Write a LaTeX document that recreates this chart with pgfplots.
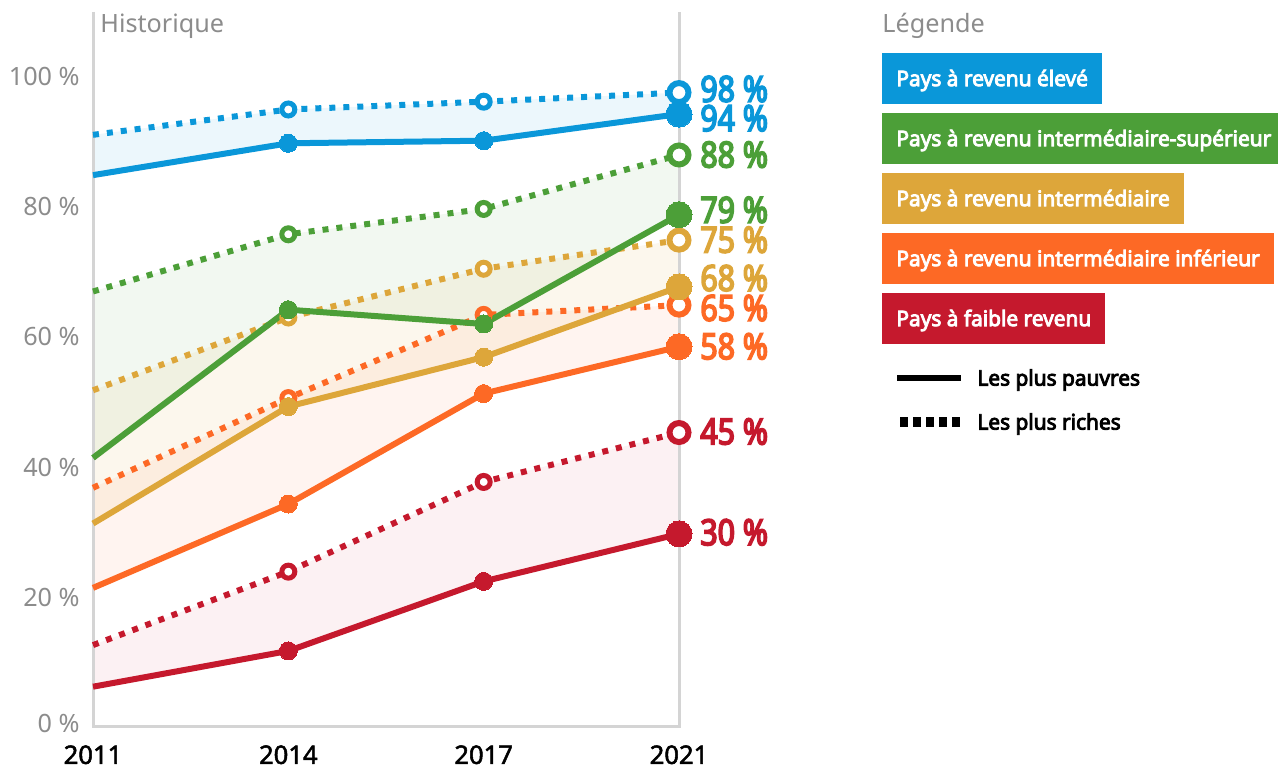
\documentclass[border=0pt]{standalone}
\usepackage{fontspec}
\setmainfont{Noto Sans}
\newfontfamily\condfont{Noto Sans}[FakeStretch=0.84, FakeBold=4.5]
\newfontfamily\legfont{Noto Sans}[FakeStretch=0.975, FakeBold=4]
\newfontfamily\tickfont{Noto Sans}[FakeBold=2]
\usepackage{pgfplots}
\pgfplotsset{compat=1.18}
\usepackage{pgfplotstable}
\usepgfplotslibrary{fillbetween}

\definecolor{cblue}{HTML}{0A97D9}
\definecolor{cgreen}{HTML}{4C9F38}
\definecolor{cgold}{HTML}{DDA63A}
\definecolor{corange}{HTML}{FD6925}
\definecolor{cred}{HTML}{C5192D}
\definecolor{tgray}{HTML}{8C8C8C}
\definecolor{agray}{HTML}{D4D4D4}

\pgfplotstableread{
x bP bR gP gR yP yR oP oR rP rR
0 84.9 91.1 41.4 67.0 31.3 51.8 21.4 36.8 6.2 12.6
1 89.8 95.0 64.2 75.8 49.3 63.0 34.3 50.6 11.7 23.9
2 90.2 96.2 62.0 79.7 56.9 70.5 51.3 63.4 22.4 37.7
3 94.3 97.6 78.8 88.0 67.7 74.9 58.5 64.9 29.7 45.3
}\chartdata

\pgfplotsset{
 poor/.style={#1, line width=3pt, line join=round, mark=*, mark indices={2,3}, mark size=4.5pt, mark options={solid, line width=0pt, draw=#1, fill=#1}},
 rich/.style={#1, line width=3pt, dash pattern=on 3pt off 4pt, mark=*, mark indices={2,3}, mark size=3.25pt, mark options={solid, line width=2.5pt, draw=#1, fill=white}},
 poorend/.style={#1, only marks, mark=*, mark indices={4}, mark size=6.5pt, mark options={solid, line width=0pt, draw=#1, fill=#1}},
 richend/.style={#1, only marks, mark=*, mark indices={4}, mark size=4.75pt, mark options={solid, line width=3pt, draw=#1, fill=white}},
}
\tikzset{
 vlab/.style={anchor=west, xshift=10.5pt, inner sep=0pt, text height=12.5pt, text depth=0pt, text=#1, font=\condfont\fontsize{18}{20}\selectfont},
 legbox/.style={anchor=west, text=white, font=\legfont\fontsize{10.7}{12}\selectfont, inner xsep=7pt, inner ysep=0pt, minimum height=25.5pt, text height=7.6pt, text depth=0pt},
}
\newcommand{\drawgroup}[3]{%
 \addplot[rich=#1] table[x=x,y=#3]{\chartdata};
 \addplot[poor=#1] table[x=x,y=#2]{\chartdata};
 \addplot[richend=#1] table[x=x,y=#3]{\chartdata};
 \addplot[poorend=#1] table[x=x,y=#2]{\chartdata};
}

\begin{document}
\begin{tikzpicture}
\begin{axis}[
 at={(46.5pt,21pt)}, anchor=south west,
 scale only axis, width=293pt, height=357.5pt,
 xmin=0, xmax=3, ymin=0, ymax=110,
 clip=false,
 axis line style={draw=none}, major tick length=0pt,
 xtick={0,1,2,3}, xticklabels={2011,2014,2017,2021},
 ytick={0,20,40,60,80,100},
 yticklabels={\raisebox{4pt}{0 \%},20 \%,40 \%,60 \%,80 \%,100 \%},
 yticklabel style={anchor=east, inner sep=0pt, xshift=-6.5pt, text=tgray, font=\fontsize{12.6}{14}\selectfont},
 xticklabel style={anchor=north, inner sep=0pt, yshift=-9pt, text=black, font=\tickfont\fontsize{12.8}{14}\selectfont},
]
\draw[agray, line width=1.5pt] (axis cs:0,110) -- (axis cs:0,0) -- (axis cs:3,0) -- (axis cs:3,110);

% invisible paths for fills
\addplot[draw=none, name path=bP, forget plot] table[x=x,y=bP]{\chartdata};
\addplot[draw=none, name path=bR, forget plot] table[x=x,y=bR]{\chartdata};
\addplot[draw=none, name path=gP, forget plot] table[x=x,y=gP]{\chartdata};
\addplot[draw=none, name path=gR, forget plot] table[x=x,y=gR]{\chartdata};
\addplot[draw=none, name path=yP, forget plot] table[x=x,y=yP]{\chartdata};
\addplot[draw=none, name path=yR, forget plot] table[x=x,y=yR]{\chartdata};
\addplot[draw=none, name path=oP, forget plot] table[x=x,y=oP]{\chartdata};
\addplot[draw=none, name path=oR, forget plot] table[x=x,y=oR]{\chartdata};
\addplot[draw=none, name path=rP, forget plot] table[x=x,y=rP]{\chartdata};
\addplot[draw=none, name path=rR, forget plot] table[x=x,y=rR]{\chartdata};

\addplot[fill=cred, fill opacity=0.06, draw=none] fill between[of=rP and rR];
\addplot[fill=corange, fill opacity=0.07, draw=none] fill between[of=oP and oR];
\addplot[fill=cgold, fill opacity=0.09, draw=none] fill between[of=yP and yR];
\addplot[fill=cgreen, fill opacity=0.07, draw=none] fill between[of=gP and gR];
\addplot[fill=cblue, fill opacity=0.08, draw=none] fill between[of=bP and bR];

\drawgroup{cred}{rP}{rR}
\drawgroup{corange}{oP}{oR}
\drawgroup{cgold}{yP}{yR}
\drawgroup{cgreen}{gP}{gR}
\drawgroup{cblue}{bP}{bR}

\node[vlab=cblue] at (axis cs:3,98.1) {98 \%};
\node[vlab=cblue] at (axis cs:3,93.6) {94 \%};
\node[vlab=cgreen] at (axis cs:3,88.0) {88 \%};
\node[vlab=cgreen] at (axis cs:3,79.5) {79 \%};
\node[vlab=cgold] at (axis cs:3,74.9) {75 \%};
\node[vlab=cgold] at (axis cs:3,69.0) {68 \%};
\node[vlab=corange] at (axis cs:3,64.4) {65 \%};
\node[vlab=corange] at (axis cs:3,58.5) {58 \%};
\node[vlab=cred] at (axis cs:3,45.4) {45 \%};
\node[vlab=cred] at (axis cs:3,29.9) {30 \%};
\end{axis}

\node[anchor=base west, inner sep=0pt, text=tgray, font=\fontsize{12.6}{14}\selectfont] at (50pt,368pt) {Historique};
\node[anchor=base west, inner sep=0pt, text=tgray, font=\fontsize{12.6}{14}\selectfont] at (441pt,368pt) {Légende};

\node[legbox, fill=cblue] at (441pt,345.25pt) {Pays à revenu élevé};
\node[legbox, fill=cgreen] at (441pt,315.25pt) {Pays à revenu intermédiaire-supérieur};
\node[legbox, fill=cgold] at (441pt,285.25pt) {Pays à revenu intermédiaire};
\node[legbox, fill=corange] at (441pt,255.25pt) {Pays à revenu intermédiaire inférieur};
\node[legbox, fill=cred] at (441pt,225.25pt) {Pays à faible revenu};

\draw[black, line width=3pt] (448.5pt,195.5pt) -- (480.5pt,195.5pt);
\draw[black, line width=5pt, dash pattern=on 3.75pt off 2.8pt] (450pt,173.5pt) -- (480pt,173.5pt);
\node[anchor=west, inner sep=0pt, text height=7.6pt, text depth=0pt, font=\legfont\fontsize{10.7}{12}\selectfont] at (488.5pt,195.5pt) {Les plus pauvres};
\node[anchor=west, inner sep=0pt, text height=7.6pt, text depth=0pt, font=\legfont\fontsize{10.7}{12}\selectfont] at (488.5pt,173.5pt) {Les plus riches};
\pgfresetboundingbox
\useasboundingbox (0,0) rectangle (639pt,384.5pt);
\end{tikzpicture}
\end{document}
